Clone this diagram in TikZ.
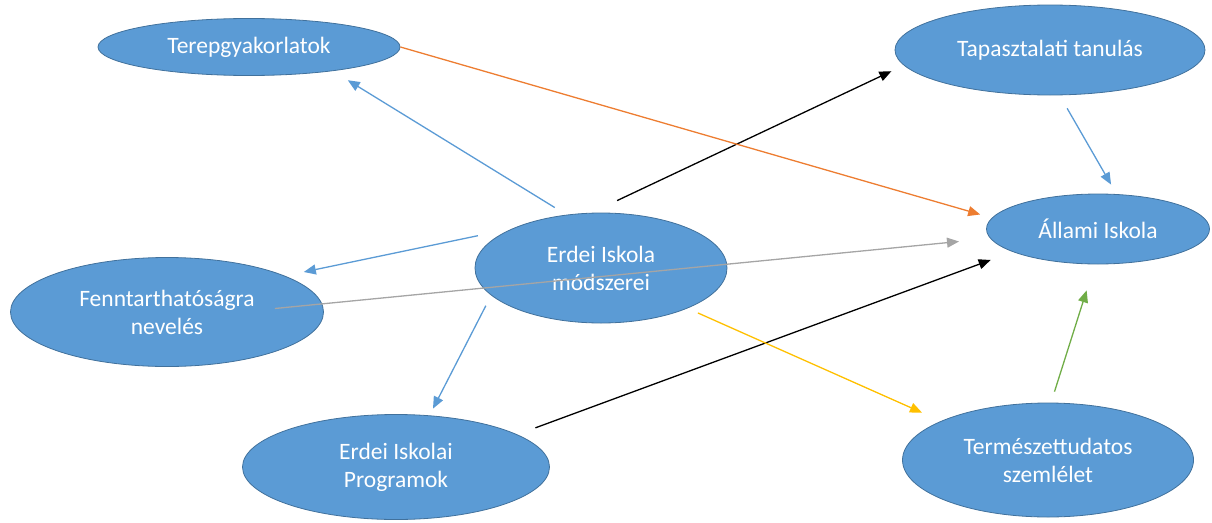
\documentclass[tikz,border=0pt]{standalone}
\usepackage{fontspec}
\setmainfont{Carlito}
\usetikzlibrary{shapes.geometric,arrows.meta}
\definecolor{fillblue}{HTML}{5B9BD5}
\definecolor{edgeblue}{HTML}{41719C}
\definecolor{linkorange}{HTML}{ED7D31}
\definecolor{linkgrey}{HTML}{A5A5A5}
\definecolor{linkyellow}{HTML}{FFC000}
\definecolor{linkgreen}{HTML}{70AD47}
\begin{document}
\begin{tikzpicture}[x=1pt, y=-1pt,
  bubble/.style={draw=edgeblue, line width=0.8pt, fill=fillblue, ellipse, inner sep=0pt, align=center, text=white, font=\fontsize{23.5}{28}\selectfont},
  link/.style={line width=1.3pt, -{Triangle[length=12pt,width=10pt]}}
]
\useasboundingbox (0,0) rectangle (1212,522);
\node[bubble, minimum width=302pt, minimum height=57pt] (terep) at (249,47) {Terepgyakorlatok};
\node[bubble, minimum width=310pt, minimum height=90pt] (tap) at (1050,50) {Tapasztalati tanulás};
\node[bubble, minimum width=223pt, minimum height=70pt] (allami) at (1098,229) {Állami Iskola};
\node[bubble, minimum width=252pt, minimum height=110pt] (mod) at (601,268) {Erdei Iskola\\módszerei};
\node[bubble, minimum width=313pt, minimum height=109pt] (fenn) at (167,312) {Fenntarthatóságra\\nevelés};
\node[bubble, minimum width=307pt, minimum height=105pt] (prog) at (396,467) {Erdei Iskolai\\Programok};
\node[bubble, minimum width=291pt, minimum height=114pt] (term) at (1048,460) {Természettudatos\\szemlélet};
\draw[link, fillblue, shorten <=13.7pt, shorten >=17.5pt] (mod.123) -- (terep.344);
\draw[link, fillblue, shorten <=35.2pt, shorten >=19.1pt] (mod.156) -- (fenn.17);
\draw[link, fillblue, shorten <=11.6pt, shorten >=7.6pt] (mod.194) -- (prog.57);
\draw[link, black, shorten <=28.6pt, shorten >=13.7pt] (mod.100) -- (tap.186);
\draw[link, linkorange, shorten >=12.1pt] (terep.0) -- (allami.174);
\draw[link, linkgrey, shorten <=-47.5pt, shorten >=31.3pt] (fenn.3) -- (allami.185);
\draw[link, black, shorten <=19.2pt, shorten >=23.4pt] (prog.15) -- (allami.195);
\draw[link, linkyellow, shorten <=11.3pt, shorten >=20.7pt] (mod.335) -- (term.160);
\draw[link, fillblue, shorten <=15pt, shorten >=11pt] (tap.282) -- (allami.62);
\draw[link, linkgreen, shorten <=11.5pt, shorten >=27.3pt] (term.87) -- (allami.265);
\end{tikzpicture}
\end{document}
